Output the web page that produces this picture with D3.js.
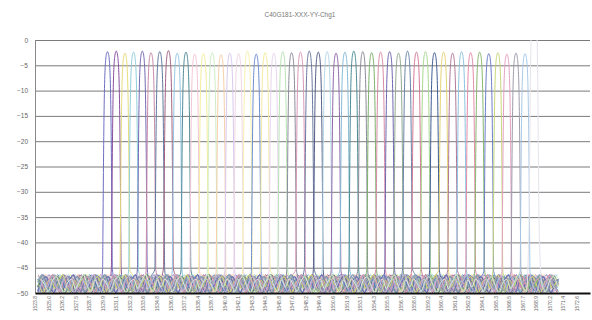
<!DOCTYPE html>
<html>
<head>
<meta charset="utf-8">
<script src="https://cdn.jsdelivr.net/npm/d3@7"></script>
<style>
html, body { margin: 0; padding: 0; background: #fff; }
svg { display: block; }
text { font-family: "Liberation Sans", Arial, sans-serif; fill: #666; }
</style>
</head>
<body>
<div id="chart"></div>
<script>
const title = "C40G181-XXX-YY-Chg1";

// channel centre wavelengths (nm), 100 GHz grid
const channelWavelengths = [
    1530.33, 1531.12, 1531.90, 1532.68, 1533.47, 1534.25, 1535.04, 1535.82,
    1536.61, 1537.40, 1538.19, 1538.98, 1539.77, 1540.56, 1541.35, 1542.14,
    1542.94, 1543.73, 1544.53, 1545.32, 1546.12, 1546.92, 1547.72, 1548.51,
    1549.32, 1550.12, 1550.92, 1551.72, 1552.52, 1553.33, 1554.13, 1554.94,
    1555.75, 1556.55, 1557.36, 1558.17, 1558.98, 1559.79, 1560.61, 1561.42,
    1562.23, 1563.05, 1563.86, 1564.68, 1565.50, 1566.31, 1567.13, 1567.95,
    1568.76
];

// peak insertion loss per channel (dB)
const channelPeaks = [
    -2.3, -2.2, -2.6, -2.4, -2.2, -2.5, -2.3, -2.1,
    -2.6, -2.4, -2.8, -2.7, -2.5, -2.9, -2.6, -2.7,
    -2.2, -2.8, -2.5, -2.6, -2.3, -2.5, -2.4, -2.2,
    -2.4, -2.3, -2.6, -2.4, -2.2, -2.3, -2.5, -2.4,
    -2.3, -2.6, -2.2, -2.4, -2.3, -2.5, -2.4, -2.6,
    -2.3, -2.5, -2.4, -2.7, -2.5, -2.8, -2.6, -2.7,
    8.0
];

const channelColors = [
    "#6f6fc4", "#8a4f9e", "#e6dc7a", "#8fd0dc", "#7468b4", "#c889a8", "#5f7a9c", "#a3607f",
    "#92c6e4", "#4f8a96", "#f2c6d6", "#f3ee9c", "#cfeec4", "#f6cfa8", "#d8c8ee", "#f0d6e4",
    "#f6f2b0", "#6c8cd0", "#f3eaa0", "#e8d4ee", "#b8e2b4", "#8c8c9c", "#d898b8", "#6a7aa0",
    "#545e88", "#b4d8e8", "#9068a8", "#86bcd8", "#4c8c94", "#8a8a98", "#7cb06c", "#d88aa6",
    "#6e66b0", "#90a890", "#6a84a8", "#d47a96", "#a8d890", "#3e5a94", "#e4d474", "#b07898",
    "#8cc4e0", "#e48aa8", "#88b870", "#6a7ec8", "#c8d878", "#e4a0c0", "#9c9cac", "#a8c8e8",
    "#e4e4ec"
];

// passband shape: offset from centre (nm) and drop below peak (dB)
const lobeOffsets = [0, 0.06, 0.12, 0.17, 0.21, 0.25, 0.29, 0.32, 0.35, 0.38, 0.41, 0.44];
const lobeDrop = [0, -0.2, -0.8, -1.8, -3.2, -5.5, -9.5, -14, -20, -28, -36, -43];

// stop-band ripple read from the floor, one value every 0.35 nm
const floorStep = 0.35;
const floorPattern = [
    -48.8, -47.2, -48.3, -49.6, -47.6, -46.8, -48.5, -49.9,
    -47.9, -47.3, -49.1, -47.7, -46.4, -48.5, -49.7, -47.4
];
const floorStart = 1524.0;
const floorEnd = 1571.0;

const yTicks = [0, -5, -10, -15, -20, -25, -30, -35, -40, -45, -50];
const xTickLabels = [
    1523.80, 1525.02, 1526.24, 1527.46, 1528.68, 1529.90, 1531.12, 1532.34, 1533.56,
    1534.78, 1536.00, 1537.22, 1538.44, 1539.66, 1540.88, 1542.10, 1543.32, 1544.54,
    1545.76, 1546.98, 1548.20, 1549.42, 1550.64, 1551.86, 1553.08, 1554.30, 1555.52,
    1556.74, 1557.96, 1559.18, 1560.40, 1561.62, 1562.84, 1564.06, 1565.28, 1566.50,
    1567.72, 1568.94, 1570.16, 1571.38, 1572.60
];

const width = 592;
const height = 320;
const margin = {top: 40, right: 2, bottom: 27, left: 35};
const innerWidth = width - margin.left - margin.right;
const innerHeight = height - margin.top - margin.bottom;

const xScale = d3.scaleLinear()
    .domain([1523.8, 1573.8])
    .range([0, innerWidth]);

const yScale = d3.scaleLinear()
    .domain([-50, 0])
    .range([innerHeight, 0]);

const traceFor = (i) => {
    const c = channelWavelengths[i];
    const p = channelPeaks[i];
    const pts = [];
    lobeOffsets.forEach((o, j) => {
        pts.push([c + o, p + lobeDrop[j]]);
        if (o > 0) pts.push([c - o, p + lobeDrop[j]]);
    });
    const n = floorPattern.length;
    const kMin = Math.ceil((floorStart - c) / floorStep);
    const kMax = Math.floor((floorEnd - c) / floorStep);
    for (let k = kMin; k <= kMax; k++) {
        if (Math.abs(k) < 2) continue;
        const idx = (((k + i * 5) % n) + n) % n;
        pts.push([c + k * floorStep, floorPattern[idx]]);
    }
    return pts.sort((a, b) => a[0] - b[0]);
};

const svg = d3.select("#chart")
    .append("svg")
    .attr("width", width)
    .attr("height", height);

svg.append("text")
    .attr("x", 300)
    .attr("y", 17)
    .attr("text-anchor", "middle")
    .style("font-size", "6.5px")
    .style("fill", "#777")
    .text(title);

const graph = svg.append("g")
    .attr("transform", `translate(${margin.left}, ${margin.top})`);

svg.append("defs").append("clipPath")
    .attr("id", "plot-clip")
    .append("rect")
    .attr("x", 0)
    .attr("y", 0)
    .attr("width", innerWidth)
    .attr("height", innerHeight);

// grid lines
graph.append("g")
    .attr("class", "grid")
    .call(d3.axisLeft(yScale).tickValues(yTicks.slice(0, -1)).tickSize(-innerWidth).tickFormat(""))
    .call(g => g.select(".domain").remove())
    .selectAll("line")
    .attr("stroke", "#7a7a7a")
    .attr("stroke-width", 1);

const line = d3.line()
    .x(d => xScale(d[0]))
    .y(d => yScale(Math.max(-50, d[1])))
    .curve(d3.curveMonotoneX);

graph.append("g")
    .attr("clip-path", "url(#plot-clip)")
    .selectAll("path")
    .data(channelWavelengths.map((_, i) => i))
    .join("path")
    .attr("fill", "none")
    .attr("stroke", i => channelColors[i])
    .attr("stroke-width", 1)
    .attr("d", i => line(traceFor(i)));

// y axis
const yAxis = graph.append("g")
    .call(d3.axisLeft(yScale).tickValues(yTicks).tickSize(0).tickPadding(7));
yAxis.select(".domain").attr("stroke", "#8a8a8a");
yAxis.selectAll("text")
    .style("font-size", "6.5px")
    .style("font-family", "'Liberation Sans', Arial, sans-serif")
    .attr("fill", "#666");

// x axis
const xAxis = graph.append("g")
    .attr("transform", `translate(0, ${innerHeight})`)
    .call(d3.axisBottom(xScale).tickValues(xTickLabels).tickSize(0).tickFormat(d3.format(".1f")));
xAxis.select(".domain").attr("stroke", "#111").attr("stroke-width", 2);
xAxis.selectAll("text")
    .style("font-size", "5px")
    .style("font-family", "'Liberation Sans', Arial, sans-serif")
    .attr("fill", "#777")
    .attr("transform", "rotate(-90)")
    .attr("text-anchor", "end")
    .attr("x", -3)
    .attr("y", 0)
    .attr("dy", "0.32em");
</script>
</body>
</html>
